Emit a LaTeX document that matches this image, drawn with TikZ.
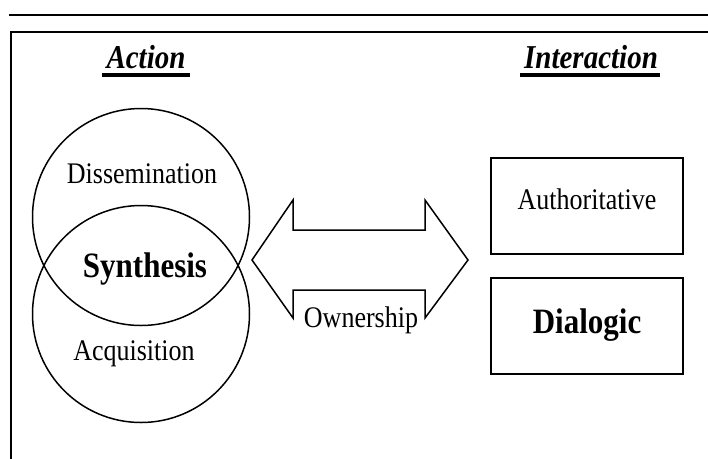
\documentclass[tikz,border=0pt]{standalone}
\usepackage{fontspec}
\usepackage{graphicx}
\setmainfont{Liberation Serif}
\usetikzlibrary{calc}
% type in the figure is drawn slightly taller than wide
\newcommand{\tallset}[1]{\scalebox{1}[1.15]{#1}}
\begin{document}
\begin{tikzpicture}[x=1pt,y=-1pt,
  frame/.style={line width=2pt},
  ring/.style={draw, circle, line width=1.5pt, minimum size=217pt, inner sep=0pt},
  plain/.style={font=\fontsize{26}{30}\selectfont, inner sep=0pt, anchor=base},
  strong/.style={font=\fontsize{31}{36}\selectfont\bfseries, inner sep=0pt, anchor=base},
  heading/.style={font=\fontsize{29}{34}\selectfont\bfseries\itshape, inner sep=0pt, anchor=base},
  uline/.style={line width=3.2pt},
  stylebox/.style={draw, line width=2pt, minimum width=192pt, minimum height=96pt, inner sep=0pt},
  bigarrow/.style={draw, line width=1.5pt, line join=miter}
]
\useasboundingbox (0,0) rectangle (708,458);

% rule above and the open frame
\draw[line width=2.5pt] (9,15) -- (712,15);
\draw[frame] (712,32) -- (11,32) -- (11,462);

% column headings
\node[heading] (act) at (146,68) {\tallset{Action}};
\draw[uline] ($(act.base west)+(-4,7)$) -- ($(act.base east)+(4,7)$);
\node[heading] (inter) at (591,68) {\tallset{Interaction}};
\draw[uline] ($(inter.base west)+(-4,7)$) -- ($(inter.base east)+(2,7)$);

% overlapping circles
\node[ring] (upper) at (141,217) {};
\node[ring] (lower) at (141,314) {};
\node[plain] (diss) at (142,183) {\tallset{Dissemination}};
\node[strong] (syn) at (145,277) {\tallset{Synthesis}};
\node[plain] (acq) at (134,360) {\tallset{Acquisition}};

% double-headed block arrow
\draw[bigarrow] (252,260) -- (293,200) -- (293,230) -- (425,230) -- (425,200)
  -- (468,260) -- (425,318) -- (425,290) -- (293,290) -- (293,318) -- cycle;
\node[plain] (own) at (361,327) {\tallset{Ownership}};

% interaction boxes
\node[stylebox] (auth) at (587,206) {};
\node[plain] (authtxt) at (587,209) {\tallset{Authoritative}};
\node[stylebox] (dial) at (587,326) {};
\node[strong] (dialtxt) at (587,333) {\tallset{Dialogic}};
\end{tikzpicture}
\end{document}
